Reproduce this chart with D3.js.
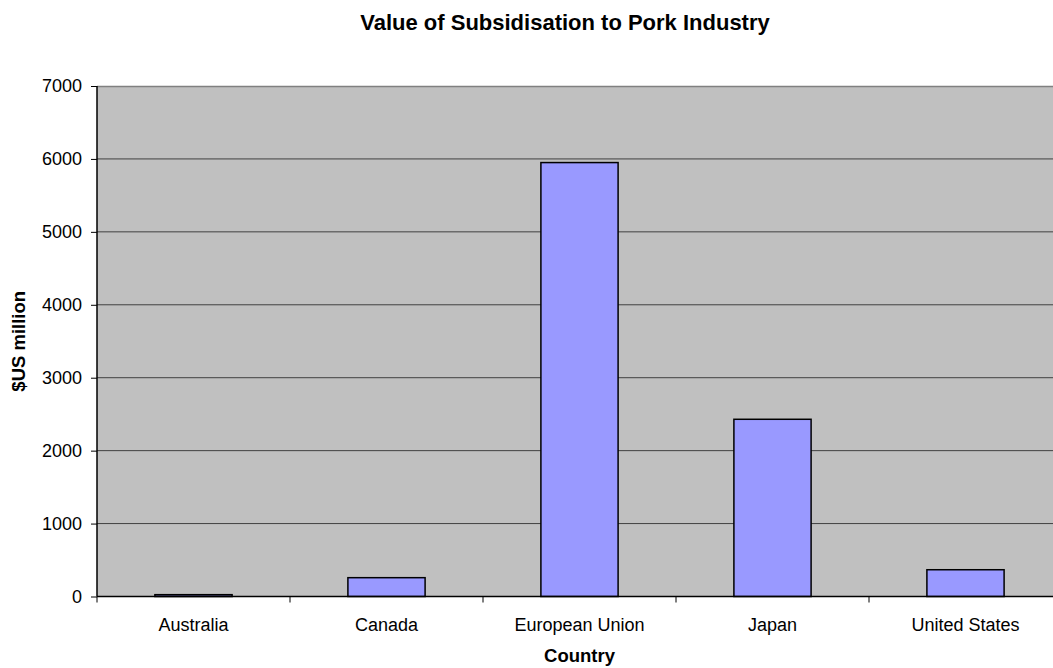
<!DOCTYPE html>
<html><head><meta charset="utf-8">
<script src="https://cdn.jsdelivr.net/npm/d3@7"></script>
<style>html,body{margin:0;padding:0;background:#fff;overflow:hidden}svg{display:block;font-family:"Liberation Sans",Arial,sans-serif}</style>
</head><body>
<script>
const categories = ["Australia","Canada","European Union","Japan","United States"];
const values = [25, 258, 5950, 2430, 367];
const yTicks = [0,1000,2000,3000,4000,5000,6000,7000];
const title = "Value of Subsidisation to Pork Industry";
const xTitle = "Country";
const yTitle = "$US million";

const W = 1053, H = 668;
const m = {left:97, top:86, right:1062, bottom:596.5};
const svg = d3.select("body").append("svg").attr("width",W).attr("height",H);

const x = d3.scaleBand().domain(categories).range([m.left,m.right]).paddingInner(0.6).paddingOuter(0.3);
const y = d3.scaleLinear().domain([0,7000]).range([m.bottom,m.top]);

svg.append("rect").attr("x",m.left).attr("y",m.top).attr("width",m.right-m.left).attr("height",m.bottom-m.top).attr("fill","#C0C0C0");
svg.append("line").attr("x1",m.left).attr("x2",m.right).attr("y1",m.top+0.5).attr("y2",m.top+0.5).attr("stroke","#808080").attr("stroke-width",1.5);

// gridlines
svg.append("g").selectAll("line").data(yTicks.filter(d=>d>0 && d<7000)).join("line")
  .attr("x1",m.left).attr("x2",m.right).attr("y1",d=>y(d)).attr("y2",d=>y(d))
  .attr("stroke","#404040").attr("stroke-width",1);

// bars
svg.append("g").selectAll("rect").data(values).join("rect")
  .attr("x",(d,i)=>x(categories[i])).attr("width",x.bandwidth())
  .attr("y",d=>y(d)).attr("height",d=>y(0)-y(d))
  .attr("fill","#9999FF").attr("stroke","#000").attr("stroke-width",1.5);

// y axis
const ya = svg.append("g").attr("transform",`translate(${m.left},0)`)
  .call(d3.axisLeft(y).tickValues(yTicks).tickFormat(d3.format("d")).tickSize(6).tickPadding(9));
ya.select(".domain").attr("stroke","#000").attr("stroke-width",1.5).attr("d",`M0,${m.top}V${m.bottom}`);
ya.selectAll(".tick line").attr("stroke","#000");
ya.selectAll("text").attr("font-size","18px").attr("fill","#000").attr("font-family","Liberation Sans, Arial, sans-serif");

// x axis
const xa = svg.append("g").attr("transform",`translate(0,${m.bottom})`)
  .call(d3.axisBottom(x).tickSize(0).tickPadding(22));
xa.select(".domain").attr("stroke","#000").attr("stroke-width",1.5).attr("d",`M${m.left},0H${m.right}`);
xa.selectAll("text").attr("font-size","18px").attr("fill","#000").attr("font-family","Liberation Sans, Arial, sans-serif");
const step = x.step();
const bounds = categories.map(c=>x(c)-(step-x.bandwidth())/2).concat([m.right]);
xa.append("g").selectAll("line").data(bounds).join("line")
  .attr("x1",d=>d).attr("x2",d=>d).attr("y1",0).attr("y2",6).attr("stroke","#000");

svg.append("text").attr("x",565).attr("y",30).attr("text-anchor","middle")
  .attr("font-size","22px").attr("font-weight","bold").text(title);
svg.append("text").attr("x",(m.left+m.right)/2).attr("y",662).attr("text-anchor","middle")
  .attr("font-size","18.5px").attr("font-weight","bold").text(xTitle);
svg.append("text").attr("transform",`translate(25,${(m.top+m.bottom)/2}) rotate(-90)`).attr("text-anchor","middle")
  .attr("font-size","18.5px").attr("font-weight","bold").text(yTitle);
</script>
</body></html>
